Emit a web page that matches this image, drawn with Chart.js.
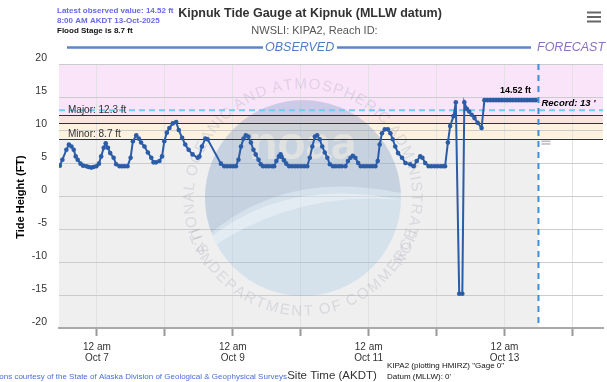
<!DOCTYPE html>
<html>
<head>
<meta charset="utf-8">
<script src="https://cdn.jsdelivr.net/npm/chart.js@4.4.1/dist/chart.umd.min.js"></script>
<style>
html,body{margin:0;padding:0;background:#fff;}
#wrap{position:relative;width:607px;height:382px;}
</style>
</head>
<body>
<div id="wrap"><canvas id="c" width="607" height="382"></canvas></div>
<script>
// Hours since 12 am Oct 7 (AKDT)
const obsHours = [
 -13.1,-12.2,-10.8,-9.9,-9.0,-8.2,-7.5,-6.8,-5.8,-4.9,-3.7,-2.9,-2.0,-1.2,-0.2,
 0.7,1.5,2.4,3.1,3.9,4.7,5.9,6.8,8.0,8.9,9.8,10.8,11.9,12.7,13.9,14.8,15.6,16.8,18.0,19.2,20.0,20.9,22.1,23.0,
 23.8,24.7,25.6,26.8,28.0,28.9,30.1,31.2,32.4,33.8,35.6,36.2,37.1,38.3,39.1,
 43.8,45.0,46.0,47.1,48.1,49.1,50.0,50.9,51.8,52.6,53.5,54.4,55.3,56.1,57.1,57.9,58.7,59.8,60.8,61.9,62.6,
 63.4,64.3,64.9,65.3,66.1,66.9,67.9,68.9,70.0,71.0,72.1,73.2,74.3,75.2,76.1,77.0,77.8,78.7,79.6,80.5,81.4,82.3,
 83.4,84.4,85.5,86.5,87.8,88.7,89.6,90.4,91.3,92.3,93.2,94.3,95.3,96.4,97.4,98.4,99.2,99.9,100.7,101.7,102.8,
 103.7,104.5,105.4,106.4,107.8,109.0,110.7,111.9,113.0,114.2,115.0,116.0,117.2,118.2,119.3,120.3,121.4,122.3,123.0,
 124.0,124.8,126.0,126.8,128.0,129.1,129.8,130.7,131.5,132.4,133.4,134.5,135.9,
 136.9,138,139,140,141,142,143,144,145,146,147,148,149,150,151,152,153,154,155
];
const obsFeet = [
 4.6,5.5,7.0,7.8,7.5,7.0,6.0,5.5,4.9,4.6,4.5,4.4,4.3,4.4,4.5,
 4.9,6.0,7.3,8.0,7.3,6.5,5.8,4.8,4.5,4.5,4.5,4.5,5.8,8.3,9.2,8.7,8.1,7.5,6.6,5.8,5.1,5.1,5.3,6.0,
 8.3,9.6,10.3,11.0,11.2,10.0,8.8,7.8,7.0,6.3,5.8,6.0,7.5,8.7,8.6,
 4.9,4.5,4.5,4.5,4.5,4.5,5.5,7.5,8.7,9.2,9.0,8.1,7.0,6.3,5.5,4.8,4.5,4.5,4.5,4.5,4.5,
 5.3,6.0,6.3,5.9,5.4,4.9,4.5,4.5,4.5,4.5,4.5,4.5,4.5,5.8,7.5,9.0,9.2,8.6,7.5,6.6,5.8,4.8,
 4.5,4.5,4.5,4.5,4.5,5.3,5.8,6.1,5.8,5.0,4.5,4.5,4.5,4.5,4.5,4.5,5.3,7.8,9.5,10.1,10.1,
 9.5,8.6,7.5,6.5,5.8,5.0,4.8,4.5,5.3,6.0,5.8,5.0,4.5,4.5,4.5,4.5,4.5,4.5,4.5,
 8.1,10.6,12.1,14.2,-14.8,-14.8,14.2,13.2,12.8,12.3,11.8,11.1,10.3,
 14.52,14.52,14.52,14.52,14.52,14.52,14.52,14.52,14.52,14.52,14.52,14.52,14.52,14.52,14.52,14.52,14.52,14.52,14.52
];
const dayTicks = [0,24,48,72,96,120,144,168];
const dayNames = ['Oct 7','Oct 8','Oct 9','Oct 10','Oct 11','Oct 12','Oct 13','Oct 14'];
const yTicks = [-20,-15,-10,-5,0,5,10,15,20];
const stages = { minor: 8.7, moderate: 11, major: 12.3, record: 13 };
const latestValue = 14.52;
const nowHour = 156;
const xRange = [-13.4, 178.8];

const F = '"Liberation Sans", Arial, sans-serif';
const points = obsHours.map((h, i) => ({ x: h, y: obsFeet[i] }));

function arcText(ctx, text, cx, cy, r, centerAng, dir, font, color) {
  ctx.save();
  ctx.font = font;
  ctx.fillStyle = color;
  ctx.textAlign = 'center';
  const widths = [...text].map(ch => ctx.measureText(ch).width);
  const total = widths.reduce((a, b) => a + b, 0) * 1.08;
  let ang = centerAng - dir * (total / r) / 2;
  [...text].forEach((ch, i) => {
    const w = widths[i] * 1.08;
    const a = ang + dir * (w / r) / 2;
    ctx.save();
    ctx.translate(cx + r * Math.cos(a), cy + r * Math.sin(a));
    if (dir > 0) { ctx.rotate(a + Math.PI / 2); ctx.textBaseline = 'bottom'; }
    else { ctx.rotate(a - Math.PI / 2); ctx.textBaseline = 'top'; }
    ctx.fillText(ch, 0, 0);
    ctx.restore();
    ang += dir * w / r;
  });
  ctx.restore();
}

const decor = {
  id: 'decor',
  beforeDraw(chart) {
    const { ctx, chartArea: a, scales: { x, y } } = chart;
    ctx.save();
    ctx.fillStyle = '#fff';
    ctx.fillRect(0, 0, chart.width, chart.height);
    const band = (lo, hi, col, x0, x1) => {
      ctx.fillStyle = col;
      const t = y.getPixelForValue(hi), b = y.getPixelForValue(lo);
      ctx.fillRect(x0, t, x1 - x0, b - t);
    };
    band(stages.major, 20, '#fae4fa', a.left, a.right);
    band(stages.moderate, stages.major, '#f9e4df', a.left, a.right);
    band(stages.minor, stages.moderate, '#fdf2e0', a.left, a.right);
    band(-20, stages.minor, '#efefef', a.left, x.getPixelForValue(nowHour));
    ctx.restore();
  },
  beforeDatasetsDraw(chart) {
    const { ctx, chartArea: a, scales: { x, y } } = chart;
    ctx.save();
    // watermark
    const cx = 303, cy = 198, R = 98;
    ctx.save();
    ctx.beginPath(); ctx.arc(cx, cy, R, 0, Math.PI * 2); ctx.clip();
    ctx.fillStyle = 'rgba(130,185,225,0.24)';
    ctx.fillRect(cx - R, cy - R, 2 * R, 2 * R);
    ctx.beginPath();
    ctx.moveTo(cx - R, cy - R);
    ctx.lineTo(cx - R, cy + 40);
    ctx.quadraticCurveTo(cx - 20, cy - 30, cx + R, cy - 5);
    ctx.lineTo(cx + R, cy - R);
    ctx.closePath();
    ctx.fillStyle = 'rgba(110,115,165,0.14)';
    ctx.fill();
    ctx.beginPath();
    ctx.moveTo(cx - R, cy + 44);
    ctx.quadraticCurveTo(cx - 20, cy - 22, cx + R, cy + 2);
    ctx.quadraticCurveTo(cx - 10, cy - 8, cx - R, cy + 54);
    ctx.fillStyle = 'rgba(255,255,255,0.35)';
    ctx.fill();
    ctx.font = 'bold 46px ' + F;
    ctx.fillStyle = 'rgba(255,246,228,0.45)';
    ctx.textAlign = 'center'; ctx.textBaseline = 'middle';
    ctx.fillText('noaa', cx, 146);
    ctx.restore();
    arcText(ctx, 'NATIONAL OCEANIC AND ATMOSPHERIC ADMINISTRATION', cx, cy, 106, -Math.PI / 2, 1, '15px ' + F, 'rgba(150,150,175,0.26)');
    arcText(ctx, 'U.S. DEPARTMENT OF COMMERCE', cx, cy, 106, Math.PI / 2, -1, '15px ' + F, 'rgba(150,150,175,0.26)');
    // stage lines
    ctx.strokeStyle = '#333'; ctx.lineWidth = 1;
    [stages.major, stages.moderate, stages.minor].forEach(v => {
      const py = Math.round(y.getPixelForValue(v)) + 0.5;
      ctx.beginPath(); ctx.moveTo(a.left, py); ctx.lineTo(a.right, py); ctx.stroke();
    });
    // record line
    ctx.strokeStyle = '#6dcdf3'; ctx.lineWidth = 2; ctx.setLineDash([6, 4]);
    const ry = y.getPixelForValue(stages.record);
    ctx.beginPath(); ctx.moveTo(a.left, ry); ctx.lineTo(a.right, ry); ctx.stroke();
    // now line
    ctx.strokeStyle = '#3b8fd8'; ctx.setLineDash([6, 5]);
    const nx = x.getPixelForValue(nowHour);
    ctx.beginPath(); ctx.moveTo(nx, a.top); ctx.lineTo(nx, a.bottom); ctx.stroke();
    ctx.setLineDash([]);
    // small forecast marker
    ctx.fillStyle = '#bbb';
    ctx.fillRect(nx + 3, y.getPixelForValue(8.4), 9, 1.5);
    ctx.fillRect(nx + 3, y.getPixelForValue(8.0), 9, 1.5);
    ctx.restore();
  },
  afterDatasetsDraw(chart) {
    const { ctx, scales: { x, y } } = chart;
    ctx.save();
    ctx.fillStyle = '#333'; ctx.font = '10px ' + F; ctx.textBaseline = 'middle'; ctx.textAlign = 'left';
    ctx.fillText('Major: ' + stages.major + ' ft', 68, y.getPixelForValue(stages.major) - 4.5);
    ctx.fillText('Minor: ' + stages.minor + ' ft', 68, y.getPixelForValue(stages.minor) - 4.5);
    ctx.fillStyle = '#000'; ctx.font = 'italic bold 9.5px ' + F;
    ctx.fillText('Record: ' + stages.record + " '", x.getPixelForValue(nowHour) + 3, y.getPixelForValue(stages.record) - 7);
    ctx.font = 'bold 9px ' + F; ctx.textAlign = 'center';
    ctx.fillText(latestValue.toFixed(2) + ' ft', x.getPixelForValue(nowHour) - 23, y.getPixelForValue(latestValue) - 10);
    ctx.restore();
  },
  afterDraw(chart) {
    const { ctx } = chart;
    ctx.save();
    ctx.textBaseline = 'middle';
    ctx.textAlign = 'left';
    ctx.fillStyle = '#6767e8'; ctx.font = 'bold 8px ' + F;
    ctx.fillText('Latest observed value: ' + latestValue + ' ft', 57, 11);
    ctx.fillText('8:00 AM AKDT 13-Oct-2025', 57, 21);
    ctx.fillStyle = '#111';
    ctx.fillText('Flood Stage is ' + stages.minor + ' ft', 57, 30.5);
    ctx.textAlign = 'center';
    ctx.fillStyle = '#333'; ctx.font = 'bold 12.5px ' + F;
    ctx.fillText('Kipnuk Tide Gauge at Kipnuk (MLLW datum)', 310, 14);
    ctx.fillStyle = '#555'; ctx.font = '11px ' + F;
    ctx.fillText('NWSLI: KIPA2, Reach ID: ', 316, 31);
    // observed / forecast header
    ctx.font = 'italic 12.5px ' + F;
    ctx.fillStyle = '#4f7fc6';
    ctx.textAlign = 'left';
    ctx.fillText('OBSERVED', 265, 47.5);
    ctx.fillStyle = '#8a72c0';
    ctx.fillText('FORECAST', 537, 47.5);
    ctx.strokeStyle = '#5b86c8'; ctx.lineWidth = 2.5;
    ctx.beginPath(); ctx.moveTo(67, 47.5); ctx.lineTo(263, 47.5); ctx.stroke();
    ctx.beginPath(); ctx.moveTo(337, 47.5); ctx.lineTo(531, 47.5); ctx.stroke();
    // hamburger
    ctx.strokeStyle = '#666'; ctx.lineWidth = 2;
    [12.5, 17, 21.5].forEach(v => { ctx.beginPath(); ctx.moveTo(587, v); ctx.lineTo(601, v); ctx.stroke(); });
    // y title
    ctx.save();
    ctx.translate(21, 197); ctx.rotate(-Math.PI / 2);
    ctx.textAlign = 'center'; ctx.fillStyle = '#000'; ctx.font = 'bold 11px ' + F;
    ctx.fillText('Tide Height (FT)', 0, 0);
    ctx.restore();
    // footer
    ctx.textAlign = 'right'; ctx.fillStyle = '#4a6fd8'; ctx.font = '8px ' + F;
    ctx.fillText('Elevations courtesy of the State of Alaska Division of Geological & Geophysical Surveys', 287, 376.5);
    ctx.textAlign = 'center'; ctx.fillStyle = '#333'; ctx.font = '11.5px ' + F;
    ctx.fillText('Site Time (AKDT)', 332, 375.5);
    ctx.textAlign = 'left'; ctx.fillStyle = '#111'; ctx.font = '8px ' + F;
    ctx.fillText('KIPA2 (plotting HMIRZ) "Gage 0"', 387, 366);
    ctx.fillText("Datum (MLLW): 0'", 387, 377);
    ctx.restore();
  }
};

new Chart(document.getElementById('c'), {
  type: 'line',
  data: {
    datasets: [{
      data: points,
      borderColor: '#2b5ca8',
      backgroundColor: '#2b5ca8',
      borderWidth: 2,
      pointRadius: 2.3,
      pointBorderWidth: 0,
      pointBackgroundColor: '#2b5ca8',
      tension: 0,
      fill: false
    }]
  },
  options: {
    responsive: false,
    animation: false,
    events: [],
    layout: { padding: { top: 64, right: 2, bottom: 0, left: 0 } },
    plugins: { legend: { display: false }, title: { display: false }, tooltip: { enabled: false } },
    scales: {
      x: {
        type: 'linear',
        min: xRange[0], max: xRange[1],
        afterBuildTicks(s) { s.ticks = dayTicks.map(v => ({ value: v })); },
        afterFit(s) { s.height = 54; },
        grid: { color: '#e2e2e2', lineWidth: 1, tickColor: '#999', tickWidth: 2, tickLength: 8 },
        border: { display: true, color: '#aaa', width: 2 },
        ticks: {
          autoSkip: false, maxRotation: 0, padding: 5,
          color: '#333', font: { family: F, size: 10, lineHeight: 1.15 },
          callback(v) {
            const i = dayTicks.indexOf(v);
            return (v % 48 === 0 && i >= 0) ? ['12 am', dayNames[i]] : '';
          }
        }
      },
      y: {
        min: -20, max: 20,
        afterBuildTicks(s) { s.ticks = yTicks.map(v => ({ value: v })); },
        afterFit(s) { s.width = 59; },
        grid: { color: '#cccccc', lineWidth: 1, drawTicks: false },
        border: { display: false },
        ticks: { padding: 12, labelOffset: -5.5, color: '#333', font: { family: F, size: 10.5 } }
      }
    }
  },
  plugins: [decor]
});
</script>
</body>
</html>
